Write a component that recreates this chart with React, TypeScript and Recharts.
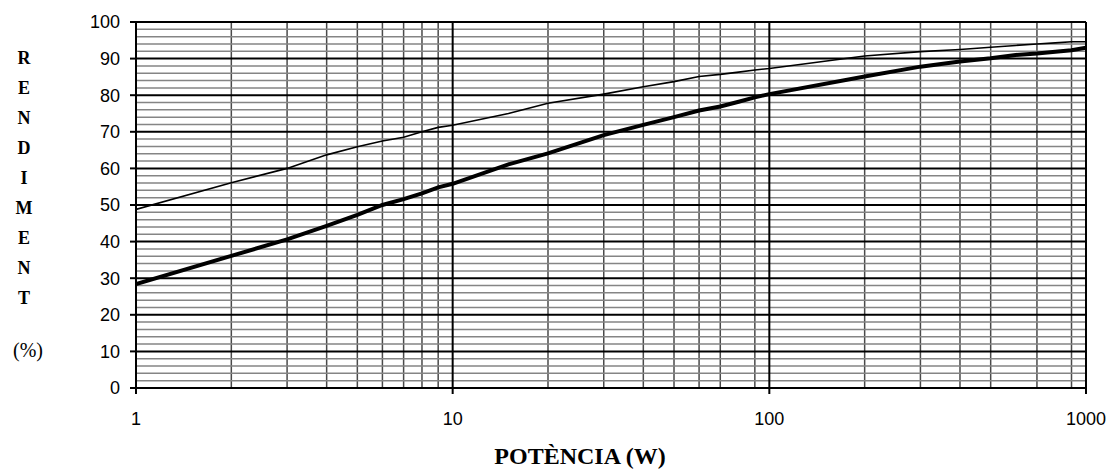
import { CartesianGrid, Line, LineChart, ReferenceLine, XAxis, YAxis } from "recharts";

// potència (W), eix logarítmic
const powers = [1, 2, 3, 4, 5, 6, 7, 8, 9, 10, 15, 20, 30, 40, 50, 60, 70, 80, 90, 100, 200, 300, 400, 500, 600, 700, 800, 900, 1000];
// corba fina (superior)
const rendimentA = [48.8, 56.1, 60.0, 63.7, 65.9, 67.5, 68.5, 70.0, 71.2, 71.8, 75.0, 77.8, 80.3, 82.3, 83.7, 85.1, 85.7, 86.3, 86.9, 87.3, 90.7, 91.9, 92.5, 93.1, 93.6, 94.0, 94.3, 94.6, 94.6];
// corba gruixuda (inferior)
const rendimentB = [28.4, 36.1, 40.6, 44.3, 47.3, 50.0, 51.6, 53.2, 54.8, 55.8, 61.1, 64.1, 69.1, 71.9, 74.0, 75.8, 76.9, 78.2, 79.4, 80.3, 85.1, 87.8, 89.2, 90.1, 91.0, 91.4, 91.9, 92.3, 93.0];

const xTicks = [1, 10, 100, 1000];
const yTicks = [0, 10, 20, 30, 40, 50, 60, 70, 80, 90, 100];
const xMinor = [2, 3, 4, 5, 6, 7, 8, 9, 20, 30, 40, 50, 60, 70, 80, 90, 200, 300, 400, 500, 600, 700, 800, 900];
const xMajor = [1, 10, 100, 1000];
const yMinor = [2, 4, 6, 8, 12, 14, 16, 18, 22, 24, 26, 28, 32, 34, 36, 38, 42, 44, 46, 48, 52, 54, 56, 58, 62, 64, 66, 68, 72, 74, 76, 78, 82, 84, 86, 88, 92, 94, 96, 98];
const yMajor = [0, 10, 20, 30, 40, 50, 60, 70, 80, 90, 100];
const yTitle = ["R", "E", "N", "D", "I", "M", "E", "N", "T"];

const data = powers.map((p, i) => ({ p, a: rendimentA[i], b: rendimentB[i] }));

const sans = "'Liberation Sans', Arial, sans-serif";
const serif = "'Liberation Serif', 'Times New Roman', serif";

function YTitle() {
  return (
    <g>
      <text x={24} fontFamily={serif} fontWeight="bold" fontSize={18} textAnchor="middle" fill="#000">
        {yTitle.map((ch, i) => (
          <tspan key={i} x={24} y={64 + i * 30}>
            {ch}
          </tspan>
        ))}
      </text>
      <text x={28} y={357} fontFamily={serif} fontSize={20} textAnchor="middle" fill="#000">
        (%)
      </text>
    </g>
  );
}

function XTitle() {
  return (
    <text x={580} y={464} fontFamily={serif} fontWeight="bold" fontSize={24} textAnchor="middle" fill="#000">
      POTÈNCIA (W)
    </text>
  );
}

export default function App() {
  return (
    <div style={{ position: "absolute", left: 0, top: 0, width: 1112, height: 470, background: "#fff" }}>
      <LineChart width={1112} height={470} data={data} margin={{ top: 22, right: 26, left: 0, bottom: 52 }}>
        <CartesianGrid horizontal={false} verticalValues={xMinor} stroke="#4a4a4a" strokeWidth={1.5} />
        {yMinor.map((v) => (
          <ReferenceLine key={"ym" + v} y={v} stroke="#858585" strokeWidth={1.5} />
        ))}
        {yMajor.map((v) => (
          <ReferenceLine key={"yM" + v} y={v} stroke="#000" strokeWidth={2} />
        ))}
        {xMajor.map((v) => (
          <ReferenceLine key={"xM" + v} x={v} stroke="#000" strokeWidth={2} />
        ))}
        <XAxis
          dataKey="p"
          type="number"
          scale="log"
          domain={[1, 1000]}
          ticks={xTicks}
          allowDataOverflow
          height={30}
          tickSize={6}
          tickMargin={18}
          tick={{ fill: "#000", fontSize: 18, fontFamily: sans }}
          axisLine={{ stroke: "#000", strokeWidth: 2 }}
          tickLine={{ stroke: "#000", strokeWidth: 2 }}
          label={{ content: () => <XTitle /> }}
        />
        <YAxis
          type="number"
          domain={[0, 100]}
          ticks={yTicks}
          width={136}
          tickSize={6}
          tickMargin={10}
          tick={{ fill: "#000", fontSize: 18, fontFamily: sans }}
          axisLine={{ stroke: "#000", strokeWidth: 2 }}
          tickLine={{ stroke: "#000", strokeWidth: 2 }}
          label={{ content: () => <YTitle /> }}
        />
        <Line dataKey="a" type="linear" stroke="#000" strokeWidth={1.6} dot={false} isAnimationActive={false} />
        <Line dataKey="b" type="linear" stroke="#000" strokeWidth={4} dot={false} isAnimationActive={false} />
      </LineChart>
    </div>
  );
}
